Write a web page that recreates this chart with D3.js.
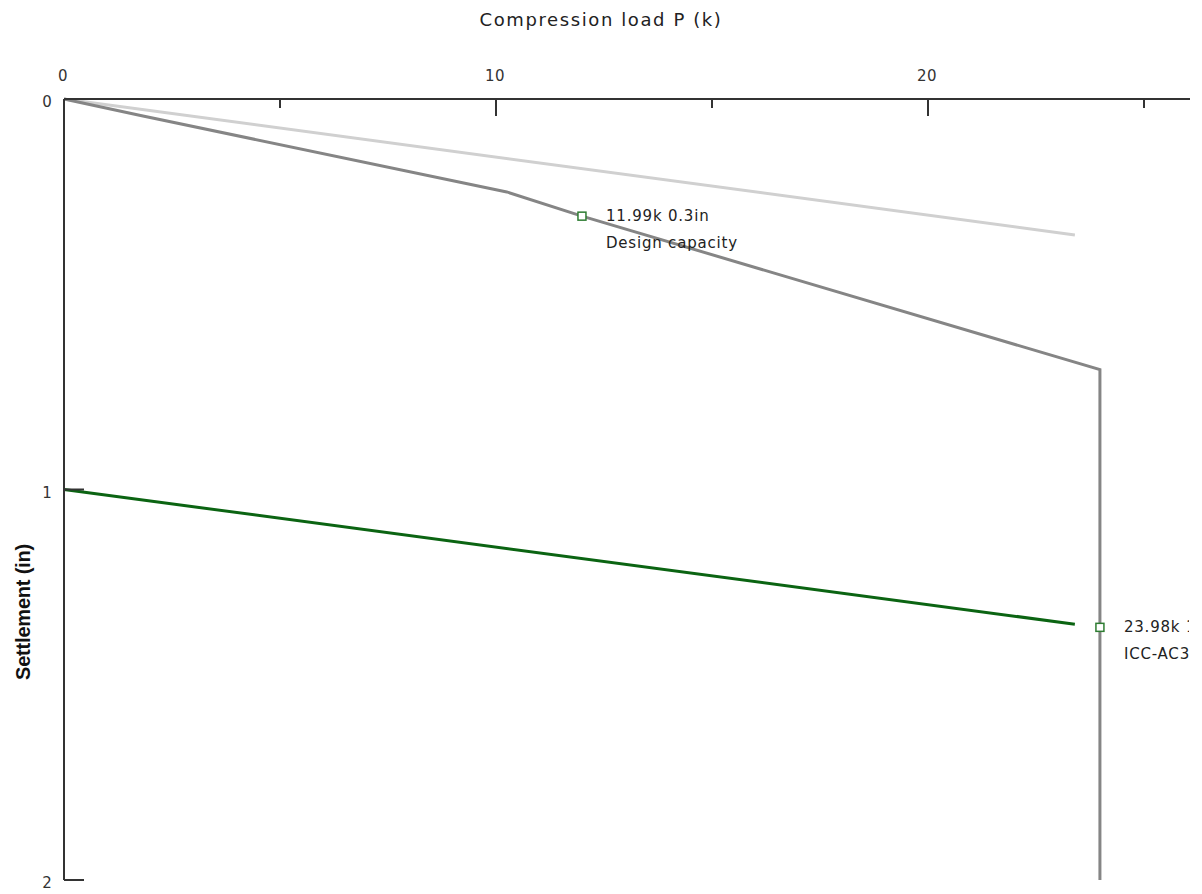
<!DOCTYPE html>
<html>
<head>
<meta charset="utf-8">
<script src="https://cdn.jsdelivr.net/npm/d3@7"></script>
<style>
  body { margin: 0; background: #fff; }
  text { font-family: "DejaVu Sans", "Open Sans", sans-serif; }
</style>
</head>
<body>
<div id="chart"></div>
<script>
// load (k) vs settlement (in)
const curveLoad = [0, 1.8, 10.25, 11.99, 23.98, 23.98];
const curveSettle = [0, 0.043, 0.238, 0.30, 0.693, 2.0];

const elasticLoad = [0, 23.4];
const elasticSettle = [0, 0.348];

const limitLoad = [0, 23.4];
const limitSettle = [1.0, 1.345];

const xTicks = [0, 10, 20];
const xMinorTicks = [5, 15, 25];
const yTicks = [0, 1, 2];

const notes = [
  {p: 11.99, s: 0.30, line1: "11.99k 0.3in", line2: "Design capacity"},
  {p: 23.98, s: 1.353, line1: "23.98k 1.35in", line2: "ICC-AC358"}
];

const width = 1202, height = 894;
const svg = d3.select("#chart").append("svg")
  .attr("width", width)
  .attr("height", height);

const x = d3.scaleLinear().domain([0, 26.065]).range([64, 1190]);
const y = d3.scaleLinear().domain([0, 2]).range([99, 880]);

const zip = (a, b) => a.map((v, i) => [v, b[i]]);
const line = d3.line().x(d => x(d[0])).y(d => y(d[1]));

// series
svg.append("path").datum(zip(elasticLoad, elasticSettle))
  .attr("d", line).attr("fill", "none")
  .attr("stroke", "#d0d0d0").attr("stroke-width", 3);

svg.append("path").datum(zip(limitLoad, limitSettle))
  .attr("d", line).attr("fill", "none")
  .attr("stroke", "#0b6412").attr("stroke-width", 3);

svg.append("path").datum(zip(curveLoad, curveSettle))
  .attr("d", line).attr("fill", "none")
  .attr("stroke", "#858585").attr("stroke-width", 3);

// top axis
svg.append("line")
  .attr("x1", x(0)).attr("x2", x.range()[1])
  .attr("y1", y(0)).attr("y2", y(0))
  .attr("stroke", "#333").attr("stroke-width", 2);

svg.selectAll(".xmaj").data(xTicks.slice(1)).join("line")
  .attr("x1", d => x(d)).attr("x2", d => x(d))
  .attr("y1", y(0)).attr("y2", y(0) + 17)
  .attr("stroke", "#333").attr("stroke-width", 2);

svg.selectAll(".xmin").data(xMinorTicks).join("line")
  .attr("x1", d => x(d)).attr("x2", d => x(d))
  .attr("y1", y(0)).attr("y2", y(0) + 9)
  .attr("stroke", "#333").attr("stroke-width", 2);

svg.selectAll(".xlab").data(xTicks).join("text")
  .attr("x", d => x(d) - 1).attr("y", 81)
  .attr("text-anchor", "middle")
  .attr("font-size", 15).attr("letter-spacing", 0.5).attr("fill", "#333")
  .text(d => d);

// left axis
svg.append("line")
  .attr("x1", x(0)).attr("x2", x(0))
  .attr("y1", y(0)).attr("y2", y(2))
  .attr("stroke", "#333").attr("stroke-width", 2);

svg.selectAll(".ytk").data(yTicks).join("line")
  .attr("x1", x(0)).attr("x2", x(0) + 20)
  .attr("y1", d => y(d)).attr("y2", d => y(d))
  .attr("stroke", "#333").attr("stroke-width", 2);

svg.selectAll(".ylab").data(yTicks).join("text")
  .attr("x", 47).attr("y", d => y(d) + 8)
  .attr("text-anchor", "middle")
  .attr("font-size", 15).attr("fill", "#333")
  .text(d => d);

// titles
svg.append("text")
  .attr("x", 601).attr("y", 26)
  .attr("text-anchor", "middle")
  .attr("font-size", 18).attr("letter-spacing", 1.6).attr("fill", "#222")
  .text("Compression load P (k)");

svg.append("text")
  .attr("transform", "translate(30,612) rotate(-90)")
  .attr("text-anchor", "middle")
  .attr("font-size", 20).attr("font-weight", "bold")
  .style("font-family", "'Liberation Sans Narrow', 'Liberation Sans', sans-serif")
  .attr("letter-spacing", -0.2)
  .attr("fill", "#111")
  .text("Settlement (in)");

// annotations
svg.append("clipPath").attr("id", "clip")
  .append("rect").attr("x", 0).attr("y", 0).attr("width", 1189).attr("height", height);

const ann = svg.append("g").attr("clip-path", "url(#clip)");

ann.selectAll("rect").data(notes).join("rect")
  .attr("x", d => x(d.p) - 4).attr("y", d => y(d.s) - 4)
  .attr("width", 8).attr("height", 8)
  .attr("fill", "#fff").attr("stroke", "#2e7d32").attr("stroke-width", 1.5);

ann.selectAll(".l1").data(notes).join("text")
  .attr("x", d => x(d.p) + 24).attr("y", d => y(d.s) + 5)
  .attr("font-size", 15).attr("letter-spacing", 0.8).attr("fill", "#222")
  .text(d => d.line1);

ann.selectAll(".l2").data(notes).join("text")
  .attr("x", d => x(d.p) + 24).attr("y", d => y(d.s) + 32)
  .attr("font-size", 15).attr("letter-spacing", 0.8).attr("fill", "#222")
  .text(d => d.line2);
</script>
</body>
</html>
